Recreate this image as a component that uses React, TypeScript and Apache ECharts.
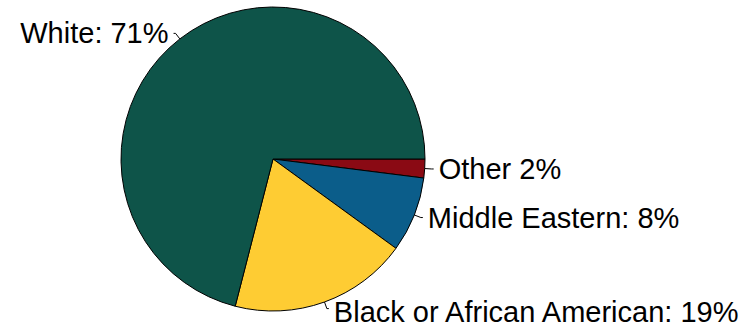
import React, { useEffect, useRef } from "react";
import * as echarts from "echarts";

const categories = ["Other", "Middle Eastern", "Black or African American", "White"];
const values = [2, 8, 19, 71];
const labels = ["Other 2%", "Middle Eastern: 8%", "Black or African American: 19%", "White: 71%"];
const colors = ["#8a0a14", "#0b5d8a", "#fecc33", "#0e5449"];

export default function App() {
  const ref = useRef<HTMLDivElement>(null);
  useEffect(() => {
    const chart = echarts.init(ref.current!, null, { renderer: "svg" });
    chart.setOption({
      animation: false,
      backgroundColor: "#ffffff",
      series: [
        {
          type: "pie",
          center: [273, 159],
          radius: 152,
          startAngle: 0,
          clockwise: true,
          avoidLabelOverlap: false,
          itemStyle: { borderColor: "#000", borderWidth: 1 },
          label: {
            show: true,
            color: "#000",
            fontSize: 29,
            fontFamily: "Liberation Sans, Arial, sans-serif",
            formatter: (p: any) => labels[p.dataIndex],
            distanceToLabelLine: 5,
          },
          labelLine: {
            show: true,
            length: 7,
            length2: 2,
            lineStyle: { color: "#000", width: 1 },
          },
          labelLayout: (p: any) => (p.dataIndex === 2 ? { dy: 3 } : {}),
          data: categories.map((c, i) => ({
            name: c,
            value: values[i],
            itemStyle: { color: colors[i] },
            label: i === 2 ? { padding: [20, 0, 0, 0] } : i === 3 ? { padding: [0, 0, 10, 0] } : undefined,
          })),
        },
      ],
    });
    return () => chart.dispose();
  }, []);
  return (
    <div
      ref={ref}
      style={{ position: "fixed", left: 0, top: 0, width: 753, height: 331 }}
    />
  );
}
